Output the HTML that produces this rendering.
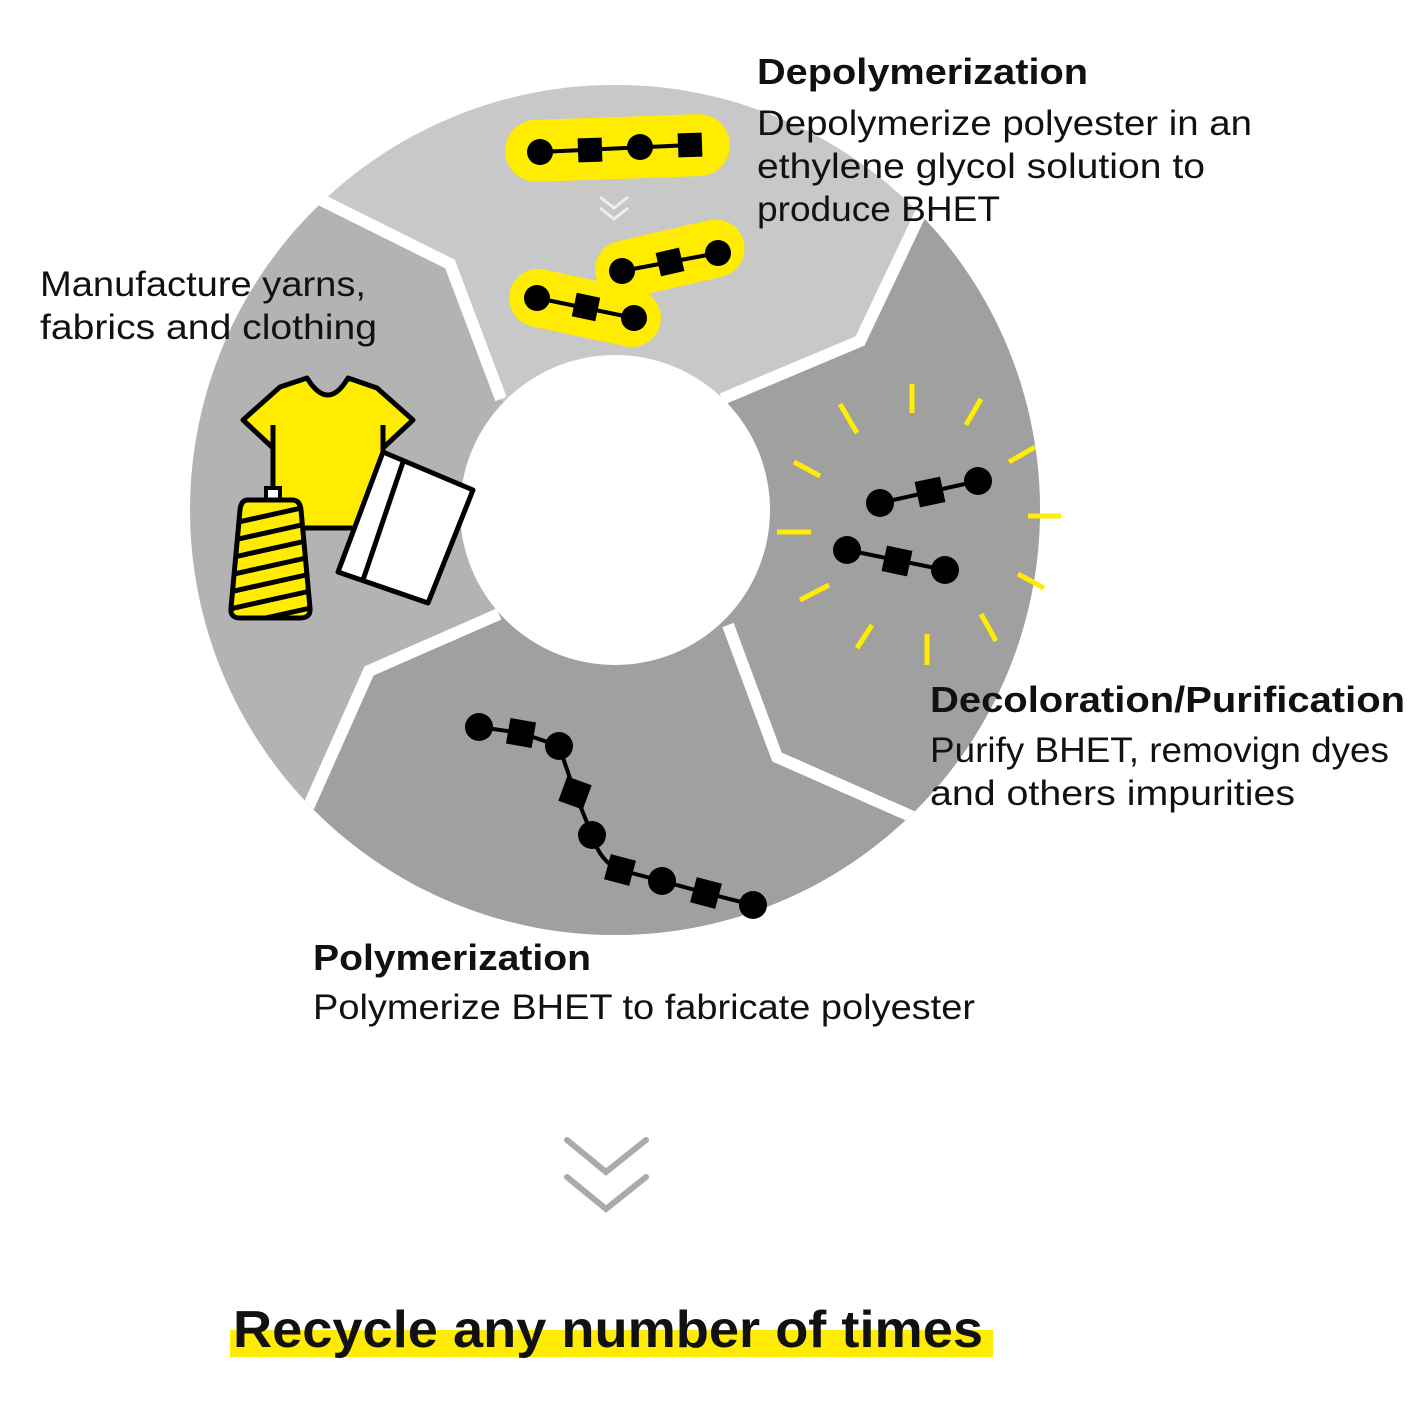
<!DOCTYPE html>
<html><head><meta charset="utf-8"><style>
html,body{margin:0;padding:0;background:#fff;}
svg{display:block;}
text{font-family:"Liberation Sans",sans-serif;fill:#111;}
.b{font-weight:bold;}
</style></head><body>
<svg width="1428" height="1424" viewBox="0 0 1428 1424" xmlns="http://www.w3.org/2000/svg">
<defs><clipPath id="c"><circle cx="615" cy="510" r="425"/></clipPath></defs>
<g clip-path="url(#c)">
<rect x="0" y="0" width="1428" height="1424" fill="#b3b3b3"/>
<polygon fill="#c8c8c8" points="615,510 501,399 450,264 100,90 100,-200 1100,-200 1060,-80 860,341 722,399"/>
<polygon fill="#a0a0a0" points="615,510 722,399 860,341 1060,-80 1500,-80 1500,1100 1300,988 777,757 728,625"/>
<polygon fill="#a0a0a0" points="615,510 728,625 777,757 1300,988 1300,1300 0,1300 200,1050 369,671 499,614"/>
<g fill="none" stroke="#fff" stroke-width="12" stroke-linejoin="miter">
<polyline points="100,90 450,264 501,399"/>
<polyline points="1060,-80 860,341 722,399"/>
<polyline points="728,625 777,757 1300,988"/>
<polyline points="499,614 369,671 200,1050"/>
</g>
</g>
<circle cx="615" cy="510" r="155" fill="#fff"/>

<!-- top pills -->
<g transform="rotate(-2 617 148)">
<rect x="505" y="117" width="225" height="62" rx="31" fill="#ffec00"/>
</g>
<g stroke="#000" stroke-width="4"><line x1="540" y1="152" x2="690" y2="145"/></g>
<circle cx="540" cy="152" r="13"/><circle cx="640" cy="147" r="13"/>
<rect x="578" y="138" width="24" height="24" transform="rotate(-2 590 150)"/>
<rect x="678" y="133" width="24" height="24" transform="rotate(-2 690 145)"/>
<polyline points="600,197 614,208 628,197" fill="none" stroke="#eee" stroke-width="3"/>
<polyline points="600,208 614,219 628,208" fill="none" stroke="#eee" stroke-width="3"/>
<g transform="rotate(-13 670 260)"><rect x="594" y="230" width="152" height="58" rx="29" fill="#ffec00"/></g>
<line x1="622" y1="271" x2="718" y2="253" stroke="#000" stroke-width="4"/>
<circle cx="622" cy="271" r="13"/><circle cx="718" cy="253" r="13"/>
<rect x="658" y="250" width="24" height="24" transform="rotate(-13 670 262)"/>
<g transform="rotate(12 585 308)"><rect x="508" y="279" width="154" height="58" rx="29" fill="#ffec00"/></g>
<line x1="537" y1="298" x2="634" y2="318" stroke="#000" stroke-width="4"/>
<circle cx="537" cy="298" r="13"/><circle cx="634" cy="318" r="13"/>
<rect x="574" y="295" width="24" height="24" transform="rotate(12 586 307)"/>

<!-- right rays and molecules -->
<g stroke="#ffec00" stroke-width="5">
<line x1="912" y1="384" x2="912" y2="413"/>
<line x1="840" y1="404" x2="857" y2="433"/>
<line x1="981" y1="399" x2="966" y2="425"/>
<line x1="794" y1="462" x2="820" y2="476"/>
<line x1="1009" y1="462" x2="1035" y2="447"/>
<line x1="777" y1="532" x2="811" y2="532"/>
<line x1="1028" y1="516" x2="1061" y2="516"/>
<line x1="800" y1="600" x2="829" y2="585"/>
<line x1="1018" y1="574" x2="1044" y2="588"/>
<line x1="857" y1="648" x2="872" y2="625"/>
<line x1="981" y1="614" x2="996" y2="641"/>
<line x1="927" y1="634" x2="927" y2="665"/>
</g>
<g stroke="#000" stroke-width="4"><line x1="880" y1="503" x2="978" y2="481"/><line x1="847" y1="550" x2="945" y2="570"/></g>
<circle cx="880" cy="503" r="14"/><circle cx="978" cy="481" r="14"/>
<rect x="917" y="479" width="26" height="26" transform="rotate(-12 930 492)"/>
<circle cx="847" cy="550" r="14"/><circle cx="945" cy="570" r="14"/>
<rect x="884" y="548" width="26" height="26" transform="rotate(12 897 561)"/>

<!-- bottom chain -->
<path d="M479,727 L521,733 L559,746 L575,793 L592,835 Q600,862 620,870 L662,881 L706,893 L753,905" fill="none" stroke="#000" stroke-width="4"/>
<circle cx="479" cy="727" r="14"/><circle cx="559" cy="746" r="14"/><circle cx="592" cy="835" r="14"/><circle cx="662" cy="881" r="14"/><circle cx="753" cy="905" r="14"/>
<rect x="508" y="720" width="26" height="26" transform="rotate(10 521 733)"/>
<rect x="562" y="780" width="26" height="26" transform="rotate(20 575 793)"/>
<rect x="607" y="857" width="26" height="26" transform="rotate(15 620 870)"/>
<rect x="693" y="880" width="26" height="26" transform="rotate(15 706 893)"/>

<!-- clothing -->
<path d="M307,378 Q328,412 348,378 L377,388 L413,420 L383,448 L383,528 L273,528 L273,448 L243,420 L280,387 Z" fill="#ffec00" stroke="#000" stroke-width="5" stroke-linejoin="round"/>
<line x1="273" y1="425" x2="273" y2="492" stroke="#000" stroke-width="5"/>
<line x1="383" y1="425" x2="383" y2="448" stroke="#000" stroke-width="5"/>
<rect x="266" y="488" width="14" height="12" fill="#fff" stroke="#000" stroke-width="4"/>
<clipPath id="sp"><path d="M248,500 L292,500 Q300,500 301,510 L310,608 Q311,618 300,618 L240,618 Q230,618 231,608 L240,510 Q241,500 248,500Z"/></clipPath>
<g clip-path="url(#sp)">
<rect x="225" y="495" width="90" height="130" fill="#ffec00"/>
<g stroke="#000" stroke-width="5">
<line x1="225" y1="525" x2="315" y2="505"/><line x1="225" y1="542" x2="315" y2="522"/><line x1="225" y1="559" x2="315" y2="539"/><line x1="225" y1="576" x2="315" y2="556"/><line x1="225" y1="593" x2="315" y2="573"/><line x1="225" y1="610" x2="315" y2="590"/><line x1="225" y1="627" x2="315" y2="607"/>
</g></g>
<path d="M248,500 L292,500 Q300,500 301,510 L310,608 Q311,618 300,618 L240,618 Q230,618 231,608 L240,510 Q241,500 248,500Z" fill="none" stroke="#000" stroke-width="5"/>
<polygon points="383,452 473,490 428,603 338,572" fill="#fff" stroke="#000" stroke-width="5" stroke-linejoin="round"/>
<line x1="403" y1="462" x2="363" y2="580" stroke="#000" stroke-width="5"/>

<!-- text -->
<text class="b" x="757" y="84" font-size="36" textLength="331" lengthAdjust="spacingAndGlyphs">Depolymerization</text>
<text x="757" y="135" font-size="35" textLength="495" lengthAdjust="spacingAndGlyphs">Depolymerize polyester in an</text>
<text x="757" y="178" font-size="35" textLength="448" lengthAdjust="spacingAndGlyphs">ethylene glycol solution to</text>
<text x="757" y="221" font-size="35" textLength="243" lengthAdjust="spacingAndGlyphs">produce BHET</text>
<text x="40" y="296" font-size="35" textLength="326" lengthAdjust="spacingAndGlyphs">Manufacture yarns,</text>
<text x="40" y="339" font-size="35" textLength="337" lengthAdjust="spacingAndGlyphs">fabrics and clothing</text>
<text class="b" x="930" y="712" font-size="36" textLength="475" lengthAdjust="spacingAndGlyphs">Decoloration/Purification</text>
<text x="930" y="762" font-size="35" textLength="459" lengthAdjust="spacingAndGlyphs">Purify BHET, removign dyes</text>
<text x="930" y="805" font-size="35" textLength="365" lengthAdjust="spacingAndGlyphs">and others impurities</text>
<text class="b" x="313" y="970" font-size="36" textLength="278" lengthAdjust="spacingAndGlyphs">Polymerization</text>
<text x="313" y="1019" font-size="35" textLength="662" lengthAdjust="spacingAndGlyphs">Polymerize BHET to fabricate polyester</text>

<g fill="none" stroke="#aaa" stroke-width="6" stroke-linecap="round">
<polyline points="567,1140 606,1172 646,1140"/>
<polyline points="567,1177 606,1209 646,1177"/>
</g>
<rect x="230" y="1330" width="763" height="27" fill="#ffec00"/>
<text class="b" x="233" y="1347" font-size="52" textLength="750" lengthAdjust="spacingAndGlyphs">Recycle any number of times</text>
</svg>
</body></html>
